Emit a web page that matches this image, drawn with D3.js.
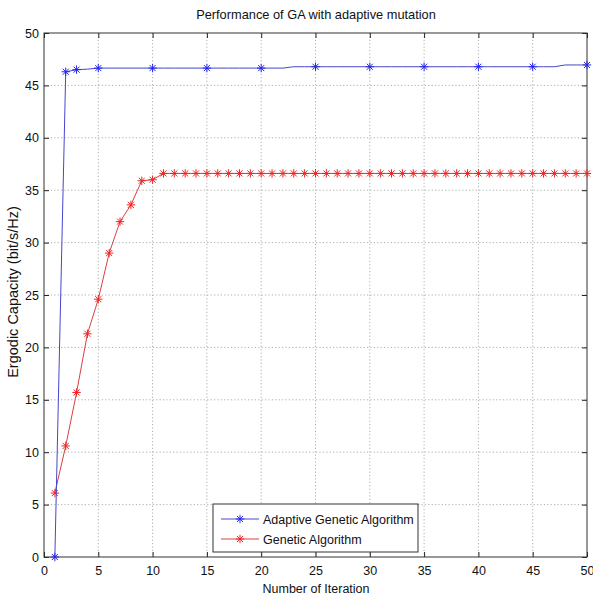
<!DOCTYPE html>
<html>
<head>
<meta charset="utf-8">
<script src="https://cdn.jsdelivr.net/npm/d3@7"></script>
<style>
  body { margin: 0; background: #fff; }
  text { font-family: "Liberation Sans", Arial, sans-serif; fill: #111; }
</style>
</head>
<body>
<svg id="chart" width="593" height="597"></svg>
<script>
const iterations = d3.range(1, 51);
// Adaptive GA value at every iteration (markers only drawn at some of them)
const adaptiveValues = [0, 46.3, 46.5, 46.55, 46.65, 46.65, 46.65, 46.65, 46.65, 46.65,
  46.65, 46.65, 46.65, 46.65, 46.65, 46.65, 46.65, 46.65, 46.65, 46.65,
  46.65, 46.65, 46.78, 46.78, 46.78, 46.78, 46.78, 46.78, 46.78, 46.78,
  46.78, 46.78, 46.78, 46.78, 46.78, 46.78, 46.78, 46.78, 46.78, 46.78,
  46.78, 46.78, 46.78, 46.78, 46.78, 46.78, 46.78, 46.95, 46.95, 46.95];
const adaptiveMarkerIters = [1, 2, 3, 5, 10, 15, 20, 25, 30, 35, 40, 45, 50];
const gaValues = [6.1, 10.6, 15.7, 21.3, 24.6, 29.0, 32.0, 33.6, 35.9, 36.0,
  36.6, 36.6, 36.6, 36.6, 36.6, 36.6, 36.6, 36.6, 36.6, 36.6,
  36.6, 36.6, 36.6, 36.6, 36.6, 36.6, 36.6, 36.6, 36.6, 36.6,
  36.6, 36.6, 36.6, 36.6, 36.6, 36.6, 36.6, 36.6, 36.6, 36.6,
  36.6, 36.6, 36.6, 36.6, 36.6, 36.6, 36.6, 36.6, 36.6, 36.6];
const xTicks = [0, 5, 10, 15, 20, 25, 30, 35, 40, 45, 50];
const yTicks = [0, 5, 10, 15, 20, 25, 30, 35, 40, 45, 50];
const seriesNames = ['Adaptive Genetic Algorithm', 'Genetic Algorithm'];

const svg = d3.select('#chart');
const plotL = 44, plotR = 587, plotT = 33, plotB = 557;
const blue = '#4646cc', red = '#dd3e3e';

const x = d3.scaleLinear().domain([0, 50]).range([plotL, plotR]);
const y = d3.scaleLinear().domain([0, 50]).range([plotB, plotT]);

// Grid lines (dotted)
const grid = svg.append('g').attr('stroke', '#999').attr('stroke-dasharray', '1.2,2.2').attr('stroke-width', 0.8);
grid.selectAll('.gx').data(xTicks.slice(1, -1)).enter().append('line')
  .attr('x1', d => x(d)).attr('x2', d => x(d)).attr('y1', plotT).attr('y2', plotB);
grid.selectAll('.gy').data(yTicks.slice(1, -1)).enter().append('line')
  .attr('y1', d => y(d)).attr('y2', d => y(d)).attr('x1', plotL).attr('x2', plotR);

// Axes with inward ticks
const axisStyle = g => {
  g.select('.domain').remove();
  g.selectAll('line').attr('stroke', '#222');
  g.selectAll('text').attr('font-size', '12.5px').attr('fill', '#111')
    .attr('font-family', '"Liberation Sans", Arial, sans-serif');
};
svg.append('g').attr('transform', `translate(0,${plotB})`)
  .call(d3.axisBottom(x).tickValues(xTicks).tickSize(-5).tickPadding(9).tickFormat(d3.format('d')))
  .call(axisStyle);
svg.append('g').attr('transform', `translate(0,${plotT})`)
  .call(d3.axisTop(x).tickValues(xTicks).tickSize(-5).tickFormat(''))
  .call(axisStyle);
svg.append('g').attr('transform', `translate(${plotL},0)`)
  .call(d3.axisLeft(y).tickValues(yTicks).tickSize(-5).tickPadding(5).tickFormat(d3.format('d')))
  .call(axisStyle);
svg.append('g').attr('transform', `translate(${plotR},0)`)
  .call(d3.axisRight(y).tickValues(yTicks).tickSize(-5).tickFormat(''))
  .call(axisStyle);

svg.append('rect').attr('x', plotL).attr('y', plotT).attr('width', plotR - plotL).attr('height', plotB - plotT)
  .attr('fill', 'none').attr('stroke', '#333').attr('stroke-width', 1);

// Asterisk marker
const star = (g, cx, cy, color, s) => {
  const p = g.append('g').attr('stroke', color).attr('stroke-width', 1);
  p.append('line').attr('x1', cx - s).attr('x2', cx + s).attr('y1', cy).attr('y2', cy);
  p.append('line').attr('x1', cx).attr('x2', cx).attr('y1', cy - s).attr('y2', cy + s);
  const d = s * 0.72;
  p.append('line').attr('x1', cx - d).attr('x2', cx + d).attr('y1', cy - d).attr('y2', cy + d);
  p.append('line').attr('x1', cx - d).attr('x2', cx + d).attr('y1', cy + d).attr('y2', cy - d);
};

const line = d3.line().x(d => x(d[0])).y(d => y(d[1]));

// Genetic Algorithm (red)
const gaData = iterations.map((it, i) => [it, gaValues[i]]);
svg.append('path').datum(gaData).attr('d', line).attr('fill', 'none').attr('stroke', red).attr('stroke-width', 1);
const gaMarks = svg.append('g');
gaData.forEach(d => star(gaMarks, x(d[0]), y(d[1]), '#f02424', 4.2));

// Adaptive GA (blue)
const agaData = iterations.map((it, i) => [it, adaptiveValues[i]]);
svg.append('path').datum(agaData).attr('d', line).attr('fill', 'none').attr('stroke', blue).attr('stroke-width', 1);
const agaMarks = svg.append('g');
adaptiveMarkerIters.forEach(it => star(agaMarks, x(it), y(adaptiveValues[it - 1]), '#2424ee', 4.2));

// Title and axis labels
svg.append('text').attr('x', 316).attr('y', 19).attr('text-anchor', 'middle').attr('font-size', '12.8px')
  .text('Performance of GA with adaptive mutation');
svg.append('text').attr('x', 316).attr('y', 593).attr('text-anchor', 'middle').attr('font-size', '12.5px')
  .text('Number of Iteration');
svg.append('text').attr('transform', 'translate(18,292) rotate(-90)').attr('text-anchor', 'middle')
  .attr('font-size', '14.5px').text('Ergodic Capacity (bit/s/Hz)');

// Legend
const lg = svg.append('g');
lg.append('rect').attr('x', 213).attr('y', 504).attr('width', 205).attr('height', 48)
  .attr('fill', '#fff').attr('stroke', '#333').attr('stroke-width', 1);
[blue, red].forEach((c, i) => {
  const ly = 519 + i * 20;
  lg.append('line').attr('x1', 221).attr('x2', 259).attr('y1', ly).attr('y2', ly).attr('stroke', c).attr('stroke-width', 1);
  star(lg, 240, ly, i === 0 ? '#2424ee' : '#f02424', 4.2);
  lg.append('text').attr('x', 263).attr('y', ly + 4.5).attr('font-size', '12.5px').text(seriesNames[i]);
});
</script>
</body>
</html>
